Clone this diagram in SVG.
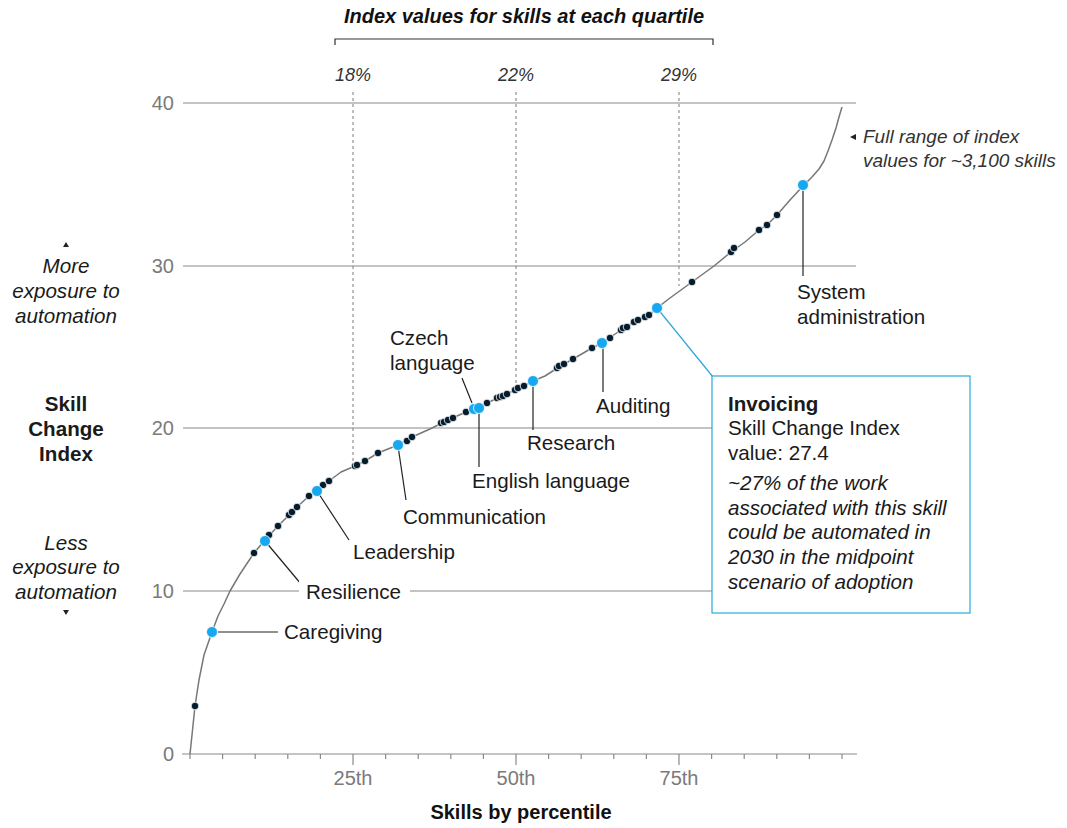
<svg xmlns="http://www.w3.org/2000/svg" width="1067" height="828" viewBox="0 0 1067 828">
<style>
text{font-family:"Liberation Sans",Arial,sans-serif;}
.lbl{font-size:20.6px;fill:#1a1a1a;}
.it{font-style:italic;}
.b{font-weight:bold;}
.ax{font-size:20px;fill:#7a7a7a;}
.grid{stroke:#8a8a8a;stroke-width:1.2;fill:none;}
.dash{stroke:#7a7a7a;stroke-width:1;stroke-dasharray:3 3;fill:none;}
.lead{stroke:#222;stroke-width:1.2;fill:none;}
.d{fill:#051c2c;stroke:#fff;stroke-width:0.8;}
.bl{fill:#17a8f0;stroke:#fff;stroke-width:0.8;}
.curve{stroke:#777;stroke-width:1.5;fill:none;stroke-linejoin:round;}
</style>
<rect width="1067" height="828" fill="#fff"/>
<g id="title">
<text x="524" y="23" class="b it" font-size="20" text-anchor="middle" fill="#111">Index values for skills at each quartile</text>
<path d="M335,45 V39 H713 V45" stroke="#333" stroke-width="1.2" fill="none"/>
<text x="353" y="81" class="it" font-size="18" text-anchor="middle" fill="#333">18%</text>
<text x="516" y="81" class="it" font-size="18" text-anchor="middle" fill="#333">22%</text>
<text x="679" y="81" class="it" font-size="18" text-anchor="middle" fill="#333">29%</text>
</g>
<g id="grid">
<line x1="183" y1="103" x2="856" y2="103" class="grid"/>
<line x1="183" y1="266" x2="856" y2="266" class="grid"/>
<line x1="183" y1="428" x2="856" y2="428" class="grid"/>
<line x1="183" y1="591" x2="856" y2="591" class="grid"/>
<line x1="182" y1="754" x2="857" y2="754" class="grid"/>
<path class="grid" d="M190,754v5M222.6,754v5M255.2,754v5M287.8,754v5M320.4,754v5M385.6,754v5M418.2,754v5M450.8,754v5M483.4,754v5M548.6,754v5M581.2,754v5M613.8,754v5M646.4,754v5M711.6,754v5M744.2,754v5M776.8,754v5M809.4,754v5M842,754v5M353,754v11M516,754v11M679,754v11"/>
<line x1="353" y1="92" x2="353" y2="465" class="dash"/>
<line x1="516" y1="92" x2="516" y2="390" class="dash"/>
<line x1="679" y1="92" x2="679" y2="286" class="dash"/>
<text x="174" y="110" class="ax" text-anchor="end">40</text>
<text x="174" y="273" class="ax" text-anchor="end">30</text>
<text x="174" y="435" class="ax" text-anchor="end">20</text>
<text x="174" y="598" class="ax" text-anchor="end">10</text>
<text x="174" y="761" class="ax" text-anchor="end">0</text>
<text x="353" y="785" class="ax" text-anchor="middle">25th</text>
<text x="516" y="785" class="ax" text-anchor="middle">50th</text>
<text x="679" y="785" class="ax" text-anchor="middle">75th</text>
<text x="521" y="819" class="b" font-size="20" text-anchor="middle" fill="#111">Skills by percentile</text>
</g>
<g id="yaxis-labels">
<path d="M63,247 L69,247 L66,242 Z" fill="#222"/>
<text x="66" y="273" class="lbl it" text-anchor="middle" fill="#333">More</text>
<text x="66" y="298" class="lbl it" text-anchor="middle" fill="#333">exposure to</text>
<text x="66" y="323" class="lbl it" text-anchor="middle" fill="#333">automation</text>
<text x="66" y="411" class="lbl b" text-anchor="middle">Skill</text>
<text x="66" y="436" class="lbl b" text-anchor="middle">Change</text>
<text x="66" y="461" class="lbl b" text-anchor="middle">Index</text>
<text x="66" y="550" class="lbl it" text-anchor="middle" fill="#333">Less</text>
<text x="66" y="574" class="lbl it" text-anchor="middle" fill="#333">exposure to</text>
<text x="66" y="599" class="lbl it" text-anchor="middle" fill="#333">automation</text>
<path d="M63,610 L69,610 L66,615 Z" fill="#222"/>
</g>
<g id="range-note">
<path d="M850,137 L856,134 L856,140 Z" fill="#222"/>
<text x="863" y="143" class="it" font-size="19" fill="#333">Full range of index</text>
<text x="863" y="167" class="it" font-size="19" fill="#333">values for ~3,100 skills</text>
</g>
<g id="connectors">
<polyline class="curve" points="190,754 192,735 195,706 199,680 204,655 212,632 218,616 224,604 230,591 240,574 254,553 265,540 278,526 297,507 309,496 317,491 329,481 341,472 355,466 365,461 378,453 398,445 412,437 430,429 448,420 466,412 478,408 487,403 500,397 515,390 524,386 533,381 545,376 559,367 573,359 592,348 602,343 621,330 634,322 649,315 657,308 670,298 692,282 714,266 731,252 745,242 759,230 767,225 777,215 790,200 803,186 812,177 819,169 824,161 828,151 832,140 836,128 839,117 842,107"/>
<line x1="218" y1="632" x2="278" y2="632" class="lead"/>
<line x1="265" y1="541" x2="301" y2="584" class="lead"/>
<line x1="317" y1="491" x2="349" y2="540" class="lead"/>
<line x1="398" y1="446" x2="406" y2="500" class="lead"/>
<line x1="462" y1="378" x2="472" y2="403" class="lead"/>
<line x1="479" y1="408" x2="479" y2="467" class="lead"/>
<line x1="533" y1="381" x2="533" y2="430" class="lead"/>
<line x1="603" y1="343" x2="603" y2="392" class="lead"/>
<line x1="803" y1="186" x2="803" y2="276" class="lead"/>
<line x1="657" y1="308" x2="713" y2="377" stroke="#29a8e0" stroke-width="1.2"/>
</g>
<g id="dots">
<circle cx="195" cy="706" r="3.8" class="d"/>
<circle cx="254" cy="553" r="3.8" class="d"/>
<circle cx="269" cy="535" r="3.8" class="d"/>
<circle cx="278" cy="526" r="3.8" class="d"/>
<circle cx="289" cy="515" r="3.8" class="d"/>
<circle cx="292" cy="512" r="3.8" class="d"/>
<circle cx="297" cy="507" r="3.8" class="d"/>
<circle cx="309" cy="496" r="3.8" class="d"/>
<circle cx="323" cy="485" r="3.8" class="d"/>
<circle cx="329" cy="481" r="3.8" class="d"/>
<circle cx="355" cy="466" r="3.8" class="d"/>
<circle cx="357" cy="465" r="3.8" class="d"/>
<circle cx="365" cy="461" r="3.8" class="d"/>
<circle cx="378" cy="453" r="3.8" class="d"/>
<circle cx="407" cy="441" r="3.8" class="d"/>
<circle cx="412" cy="437" r="3.8" class="d"/>
<circle cx="441" cy="423" r="3.8" class="d"/>
<circle cx="444" cy="422" r="3.8" class="d"/>
<circle cx="448" cy="420" r="3.8" class="d"/>
<circle cx="453" cy="418" r="3.8" class="d"/>
<circle cx="466" cy="412" r="3.8" class="d"/>
<circle cx="487" cy="403" r="3.8" class="d"/>
<circle cx="497" cy="398" r="3.8" class="d"/>
<circle cx="500" cy="397" r="3.8" class="d"/>
<circle cx="503" cy="396" r="3.8" class="d"/>
<circle cx="507" cy="394" r="3.8" class="d"/>
<circle cx="515" cy="390" r="3.8" class="d"/>
<circle cx="518" cy="388" r="3.8" class="d"/>
<circle cx="524" cy="386" r="3.8" class="d"/>
<circle cx="557" cy="368" r="3.8" class="d"/>
<circle cx="559" cy="366" r="3.8" class="d"/>
<circle cx="564" cy="364" r="3.8" class="d"/>
<circle cx="573" cy="359" r="3.8" class="d"/>
<circle cx="592" cy="348" r="3.8" class="d"/>
<circle cx="610" cy="338" r="3.8" class="d"/>
<circle cx="621" cy="330" r="3.8" class="d"/>
<circle cx="623" cy="328" r="3.8" class="d"/>
<circle cx="627" cy="327" r="3.8" class="d"/>
<circle cx="634" cy="322" r="3.8" class="d"/>
<circle cx="638" cy="320" r="3.8" class="d"/>
<circle cx="645" cy="317" r="3.8" class="d"/>
<circle cx="649" cy="315" r="3.8" class="d"/>
<circle cx="692" cy="282" r="3.8" class="d"/>
<circle cx="731" cy="252" r="3.8" class="d"/>
<circle cx="734" cy="248" r="3.8" class="d"/>
<circle cx="759" cy="230" r="3.8" class="d"/>
<circle cx="767" cy="225" r="3.8" class="d"/>
<circle cx="777" cy="215" r="3.8" class="d"/>
<circle cx="212" cy="632" r="5.5" class="bl"/>
<circle cx="265" cy="541" r="5.5" class="bl"/>
<circle cx="317" cy="491" r="5.5" class="bl"/>
<circle cx="398" cy="445" r="5.5" class="bl"/>
<circle cx="474" cy="409" r="5.5" class="bl"/>
<circle cx="479" cy="408" r="5.5" class="bl"/>
<circle cx="533" cy="381" r="5.5" class="bl"/>
<circle cx="602" cy="343" r="5.5" class="bl"/>
<circle cx="657" cy="308" r="5.5" class="bl"/>
<circle cx="803" cy="185" r="5.5" class="bl"/>
</g>
<g id="node-caregiving"><text x="284" y="639" class="lbl">Caregiving</text></g>
<g id="node-resilience"><rect x="299" y="578" width="111" height="28" fill="#fff"/><text x="306" y="599" class="lbl">Resilience</text></g>
<g id="node-leadership"><text x="353" y="559" class="lbl">Leadership</text></g>
<g id="node-communication"><text x="403" y="524" class="lbl">Communication</text></g>
<g id="node-czech"><text x="390" y="345" class="lbl">Czech</text><text x="390" y="370" class="lbl">language</text></g>
<g id="node-english"><text x="472" y="488" class="lbl">English language</text></g>
<g id="node-research"><text x="527" y="450" class="lbl">Research</text></g>
<g id="node-auditing"><text x="596" y="413" class="lbl">Auditing</text></g>
<g id="node-sysadmin"><text x="797" y="299" class="lbl">System</text><text x="797" y="324" class="lbl">administration</text></g>
<g id="node-invoicing">
<rect x="712" y="376" width="258" height="237" fill="#fff" stroke="#29a8e0" stroke-width="1.2"/>
<text x="728" y="411" class="lbl b">Invoicing</text>
<text x="728" y="435" class="lbl">Skill Change Index</text>
<text x="728" y="460" class="lbl">value: 27.4</text>
<text x="728" y="490" class="lbl it">~27% of the work</text>
<text x="728" y="515" class="lbl it">associated with this skill</text>
<text x="728" y="539" class="lbl it">could be automated in</text>
<text x="728" y="564" class="lbl it">2030 in the midpoint</text>
<text x="728" y="589" class="lbl it">scenario of adoption</text>
</g>
</svg>
